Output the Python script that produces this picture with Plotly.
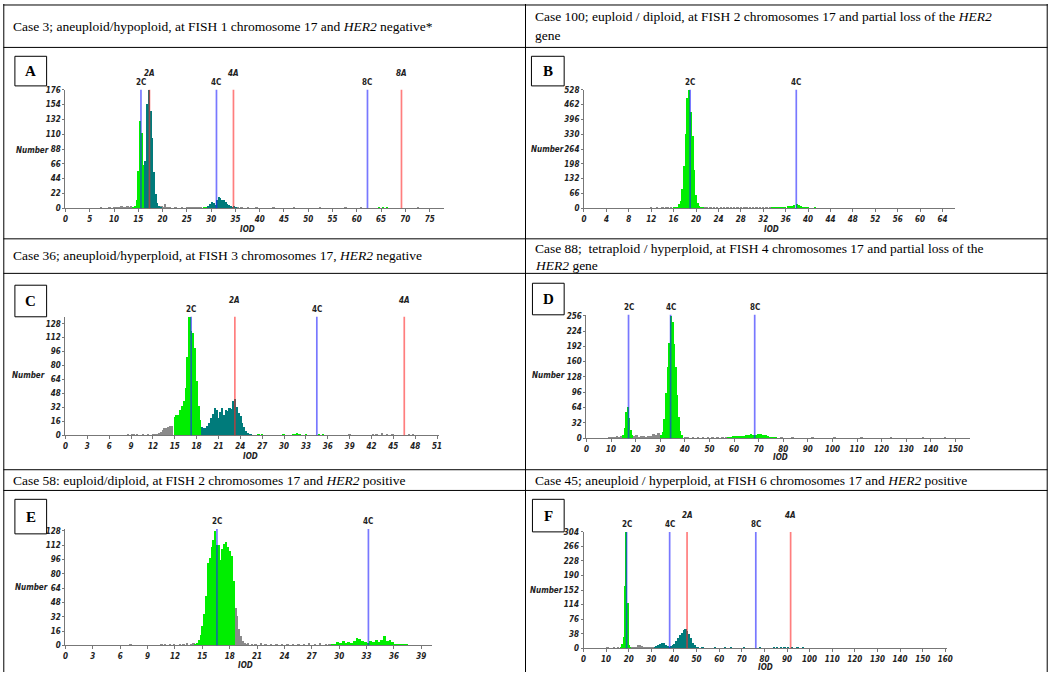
import plotly.graph_objects as go

W, H = 1054, 677

# ---------------- data (IOD bin centre, cell count) ----------------
# Panel A
A_green_x = [14.15, 14.5, 14.85, 15.2, 15.55, 15.9, 16.25, 28.6, 29.0, 64.8, 65.6, 66.4]
A_green_y = [2, 4, 12, 56, 130, 112, 64, 2, 1, 1, 1, 1]
A_teal_x = [16.6, 16.95, 17.3, 17.65, 18.0, 18.35, 18.7, 19.05, 19.4, 19.75,
            29.6, 29.95, 30.3, 30.65, 31.0, 31.35, 31.7, 32.05, 32.4, 32.75, 33.1, 33.45, 33.8, 34.15, 34.5, 34.85, 35.2]
A_teal_y = [70, 155, 176, 145, 105, 54, 22, 8, 4, 2,
            3, 7, 10, 8, 5, 13, 17, 15, 12, 13, 9, 7, 5, 3, 2, 4, 1]
A_gray_x = [7.4, 9.2, 10.1, 10.5, 10.9, 11.3, 11.7, 12.1, 12.5, 12.9, 13.3, 13.65,
            19.9, 20.3, 20.7, 21.1, 21.6, 22.8, 24.2, 25.3, 25.7, 26.1, 26.5, 26.9, 27.3, 27.7, 28.1,
            35.6, 36.4, 37.8, 39.5, 43.0, 47.2, 52.5, 57.8, 61.0, 72.8]
A_gray_y = [1, 1, 1, 2, 1, 2, 3, 2, 2, 3, 2, 3,
            3, 2, 6, 2, 1, 1, 1, 2, 1, 2, 1, 2, 1, 2, 1,
            2, 1, 1, 1, 1, 1, 1, 1, 1, 1]

# Panel B
B_green_x = [16.1, 16.4, 16.7, 17.0, 17.3, 17.6, 17.9, 18.2, 18.5, 18.8, 19.1, 19.4, 19.7, 20.0, 20.3, 20.6, 20.9, 21.2,
             33.6, 34.0, 34.4, 34.8, 35.2, 35.6, 36.0, 36.4, 36.8, 37.2, 37.6, 38.0, 38.4, 38.8, 39.2, 39.6, 40.0, 40.4, 41.3]
B_green_y = [2, 4, 8, 18, 35, 85, 190, 330, 494, 528, 430, 324, 171, 60, 25, 12, 6, 3,
             3, 4, 5, 7, 6, 8, 7, 9, 10, 11, 15, 18, 14, 10, 6, 4, 2, 1, 2]
B_gray_x = [11.6, 12.0, 12.4, 13.0, 13.5, 14.0, 14.6, 15.0, 15.5,
            21.5, 22.0, 22.6, 23.2, 23.8, 24.4, 25.0, 25.6, 26.2, 26.8, 27.4, 28.0, 28.6, 29.0, 29.6, 30.2, 30.8,
            31.4, 32.0, 32.6, 33.2, 42.0]
B_gray_y = [1, 2, 1, 2, 1, 3, 2, 3, 2,
            4, 3, 2, 3, 2, 3, 2, 3, 2, 3, 4, 3, 6, 4, 3, 4, 3,
            2, 3, 2, 2, 1]

# Panel C
C_green_x = [15.1, 15.35, 15.6, 15.85, 16.1, 16.35, 16.6, 16.85, 17.1, 17.35, 17.6, 17.85, 18.1, 18.35, 18.6,
             26.6, 27.1, 30.0, 31.3, 31.6, 31.9, 32.2, 33.1, 34.9, 35.4]
C_green_y = [21, 23, 24, 29, 34, 40, 54, 90, 136, 120, 118, 100, 62, 34, 18,
             1, 1, 1, 2, 2, 3, 2, 1, 2, 1]
C_teal_x = [18.85, 19.1, 19.35, 19.6, 19.85, 20.1, 20.35, 20.6, 20.85, 21.1, 21.35, 21.6, 21.85, 22.1,
            22.35, 22.6, 22.85, 23.1, 23.35, 23.6, 23.85, 24.1, 24.35, 24.6, 24.85, 25.1, 25.35, 25.6]
C_teal_y = [10, 9, 9, 11, 14, 20, 25, 31, 29, 20, 27, 31, 24, 29,
            28, 31, 30, 40, 42, 33, 26, 22, 14, 10, 5, 3, 2, 1]
C_gray_x = [8.7, 9.2, 9.5, 9.9, 10.7, 11.4, 12.2, 12.45, 12.7, 12.95, 13.2, 13.45, 13.7, 13.95, 14.2, 14.45, 14.7,
            39.1, 42.3, 42.8, 43.5, 44.2, 45.0, 47.2, 47.8]
C_gray_y = [1, 2, 1, 2, 1, 1, 1, 2, 1, 3, 4, 6, 8, 9, 10, 11, 11,
            1, 2, 1, 3, 2, 1, 1, 1]

# Panel D
D_green_x = [15.2, 15.8, 16.4, 17.0, 17.6, 18.2, 18.8,
             30.7, 31.35, 32.0, 32.65, 33.3, 33.95, 34.6, 35.25, 35.9, 36.55, 37.2, 37.85, 38.5, 39.15]
D_green_y = [8, 22, 55, 66, 42, 18, 6,
             8, 14, 40, 95, 150, 200, 256, 243, 198, 150, 90, 45, 15, 6]
D_tail_x = [58, 59, 60, 61, 62, 63, 64, 65, 66, 67, 68, 69, 70, 71, 72, 73, 74, 75, 76, 77]
D_tail_y = [2, 3, 5, 5, 4, 4, 5, 6, 8, 10, 6, 7, 9, 10, 8, 6, 4, 3, 2, 1]
D_gray_x = [9.5, 10.5, 11.5, 12.5, 13.5, 14.5,
            19.5, 20.5, 21.5, 22.5, 23.5, 24.5, 25.5, 26.5, 27.5, 28.5, 29.5,
            40.5, 41.5, 43.5, 45.5, 47.5, 49.5, 51.5, 53.5, 55.5, 57.0,
            79.5, 84.0, 92.0, 101.0, 112.0, 124.0, 137.0, 146.0]
D_gray_y = [1, 3, 2, 4, 3, 5,
            4, 6, 3, 5, 4, 2, 5, 4, 9, 7, 12,
            3, 2, 3, 2, 3, 2, 2, 3, 2, 3,
            1, 1, 1, 1, 1, 1, 1, 1]

# Panel E
E_green_x = [14.3, 14.5, 14.7, 14.9, 15.1, 15.3, 15.5, 15.7, 15.9, 16.1, 16.3, 16.5, 16.7, 16.9, 17.1,
             17.3, 17.5, 17.7, 17.9, 18.1, 18.3, 18.5]
E_green_y = [2, 3, 6, 12, 22, 35, 55, 92, 98, 110, 118, 128, 112, 112, 95,
             108, 113, 116, 110, 105, 100, 72]
E_tail_x = [29.3, 29.6, 29.9, 30.2, 30.5, 30.8, 31.1, 31.4, 31.7, 32.0, 32.3, 32.6, 32.9, 33.2,
            33.5, 33.8, 34.1, 34.4, 34.7, 35.0, 35.3, 35.6, 35.9, 36.2, 36.5, 36.8, 37.1, 37.4]
E_tail_y = [1, 2, 4, 3, 5, 3, 4, 3, 5, 8, 7, 5, 4, 3,
            5, 4, 6, 4, 6, 11, 5, 6, 4, 2, 1, 2, 1, 1]
E_gray_x = [7.2, 10.6, 11.0, 11.5, 12.0, 12.6, 13.0, 13.4, 13.8, 14.1,
            18.7, 18.9, 19.1, 19.3, 19.5, 19.7, 19.9, 20.1,
            20.5, 20.9, 21.5, 22.0, 22.6, 23.2, 23.8, 24.4, 25.0, 25.6, 26.2, 26.8, 27.4, 28.0, 28.6, 29.0]
E_gray_y = [1, 1, 2, 1, 2, 1, 2, 3, 2, 3,
            42, 33, 18, 10, 5, 3, 2, 3,
            2, 2, 3, 2, 2, 1, 2, 1, 2, 1, 2, 3, 2, 3, 2, 1]

# Panel F
F_green_x = [16.4, 17.0, 17.6, 18.2, 18.8, 19.4, 20.0, 20.6]
F_green_y = [3, 12, 30, 162, 304, 118, 8, 3]
F_gray_x = [5.5, 8.0, 10.5, 12.0, 13.5, 15.0, 21.0, 21.8, 22.6, 23.4, 24.2, 25.0, 25.8, 26.6, 27.4, 28.2, 29.0, 29.8, 30.6]
F_gray_y = [1, 1, 2, 1, 2, 3, 3, 4, 3, 5, 9, 10, 7, 5, 4, 3, 4, 3, 2]
F_teal_x = [31.4, 32.2, 33.0, 33.8, 34.6, 35.4, 36.2, 37.0, 37.8, 38.6, 39.4, 40.2, 41.0, 41.8, 42.6, 43.4,
            44.2, 45.0, 45.8, 46.6, 47.4, 48.2, 49.0, 49.8, 50.6]
F_teal_y = [3, 6, 9, 12, 15, 13, 10, 6, 5, 6, 8, 12, 20, 28, 35, 41,
            47, 50, 46, 38, 27, 15, 8, 4, 2]
F_sparse_x = [52.5, 55.0, 58.0, 61.0, 62.5, 65.0, 68.0, 71.0, 74.0, 78.0, 81.0, 84.0, 85.6, 87.2, 88.8,
              90.4, 92.0, 94.5, 97.0, 100.0, 104.0, 108.0, 115.0]
F_sparse_y = [2, 1, 2, 1, 3, 2, 1, 2, 1, 2, 1, 2, 3, 4, 3,
              4, 3, 2, 2, 1, 1, 1, 1]

# DNA index reference lines (C = control, A = aneuploid stemline)
A_lines = [("2C", 15.55, "b"), ("4C", 31.1, "b"), ("8C", 62.2, "b"),
           ("2A", 17.3, "r"), ("4A", 34.6, "r"), ("8A", 69.2, "r")]
B_lines = [("2C", 18.95, "b"), ("4C", 37.9, "b")]
C_lines = [("2C", 17.25, "b"), ("4C", 34.5, "b"), ("2A", 23.25, "r"), ("4A", 46.5, "r")]
D_lines = [("2C", 17.1, "b"), ("4C", 34.2, "b"), ("8C", 68.4, "b")]
E_lines = [("2C", 16.6, "b"), ("4C", 33.2, "b")]
F_lines = [("2C", 19.05, "b"), ("4C", 38.1, "b"), ("8C", 76.2, "b"), ("2A", 45.8, "r"), ("4A", 91.6, "r")]

headers = [
    (9, [(23, "Case 3; aneuploid/hypoploid, at FISH 1 chromosome 17 and <i>HER2</i> negative*")]),
    (536, [(13, "Case 100; euploid / diploid, at FISH 2 chromosomes 17 and partial loss of the <i>HER2</i>"),
           (32, "gene")]),
    (9, [(255, "Case 36; aneuploid/hyperploid, at FISH 3 chromosomes 17, <i>HER2</i> negative")]),
    (536, [(248, "Case 88;&nbsp; tetraploid / hyperploid, at FISH 4 chromosomes 17 and partial loss of the"),
           (265, "<i>HER2</i> gene")]),
    (9, [(483, "Case 58: euploid/diploid, at FISH 2 chromosomes 17 and <i>HER2</i> positive")]),
    (536, [(483, "Case 45; aneuploid / hyperploid, at FISH 6 chromosomes 17 and <i>HER2</i> positive")]),
]

GREEN = "#00ee00"
TEAL = "#007b7b"
GRAY = "#8a8a8a"
BLUE = "rgba(30,30,255,0.6)"
RED = "rgba(255,40,40,0.6)"

# panel geometry in pixels
panels = [
    dict(letter="A", box=(12, 53, 44, 83), px=(63, 445), py=(87, 207), xmax=78, ymax=176, dx=5, dy=22,
         series=[(A_gray_x, A_gray_y, GRAY, 0.38), (A_green_x, A_green_y, GREEN, 0.35), (A_teal_x, A_teal_y, TEAL, 0.35)],
         lines=A_lines, num=(47, 148), iod=(247, 229)),
    dict(letter="B", box=(533, 53, 566, 83), px=(586, 960), py=(87, 207), xmax=66.2, ymax=528, dx=4, dy=66,
         series=[(B_gray_x, B_gray_y, GRAY, 0.4), (B_green_x, B_green_y, GREEN, 0.3)],
         lines=B_lines, num=(567, 147), iod=(775, 229)),
    dict(letter="C", box=(12, 285, 44, 317), px=(63, 440), py=(317, 437), xmax=51.3, ymax=136, dx=3, dy=16,
         series=[(C_gray_x, C_gray_y, GRAY, 0.25), (C_green_x, C_green_y, GREEN, 0.25), (C_teal_x, C_teal_y, TEAL, 0.25)],
         lines=C_lines, num=(43, 377), iod=(250, 459)),
    dict(letter="D", box=(534, 283, 566, 315), px=(588.5, 975), py=(315, 440), xmax=155.8, ymax=258, dx=10, dy=32,
         series=[(D_gray_x, D_gray_y, GRAY, 1.0), (D_green_x, D_green_y, GREEN, 0.65), (D_tail_x, D_tail_y, GREEN, 1.0)],
         lines=D_lines, num=(568, 377), iod=(784, 460)),
    dict(letter="E", box=(12, 502, 44, 537), px=(63, 433), py=(532, 650), xmax=40.2, ymax=130, dx=3, dy=16,
         series=[(E_gray_x, E_gray_y, GRAY, 0.2), (E_green_x, E_green_y, GREEN, 0.2), (E_tail_x, E_tail_y, GREEN, 0.3)],
         lines=E_lines, num=(46, 591), iod=(245, 670)),
    dict(letter="F", box=(534, 502, 566, 535), px=(585.5, 952), py=(535, 653), xmax=160.7, ymax=304, dx=10, dy=38,
         series=[(F_gray_x, F_gray_y, GRAY, 0.8), (F_green_x, F_green_y, GREEN, 0.6), (F_teal_x, F_teal_y, TEAL, 0.8),
                 (F_sparse_x, F_sparse_y, TEAL, 0.8)],
         lines=F_lines, num=(566, 594), iod=(769, 672)),
]

SANS = "Liberation Sans Narrow, DejaVu Sans Condensed, Liberation Sans, Arial"
TICKFONT = dict(family=SANS, size=8, color="#222", weight="bold", style="italic")
SERIF = "Liberation Serif, Times New Roman, serif"

fig = go.Figure()
layout = dict(width=W, height=H, margin=dict(l=0, r=0, t=0, b=0), autosize=False,
              paper_bgcolor="white", plot_bgcolor="rgba(0,0,0,0)", showlegend=False,
              barmode="overlay", bargap=0)
shapes, annotations = [], []


def px_x(p):
    return p / W


def px_y(p):
    return 1 - p / H


for i, pnl in enumerate(panels, start=1):
    sx = "" if i == 1 else str(i)
    xref, yref = "x" + sx, "y" + sx
    for xs, ys, col, wdt in pnl["series"]:
        fig.add_trace(go.Bar(x=xs, y=ys, width=wdt, marker=dict(color=col, line=dict(width=0)),
                             xaxis=xref, yaxis=yref, hoverinfo="skip"))
    layout["xaxis" + sx] = dict(domain=[px_x(pnl["px"][0]), px_x(pnl["px"][1])], anchor=yref,
                                range=[0, pnl["xmax"]], tick0=0, dtick=pnl["dx"], showgrid=False, zeroline=False,
                                showline=True, linecolor="#777", linewidth=1, ticks="outside", ticklen=3,
                                tickcolor="#777", tickfont=TICKFONT, fixedrange=True)
    layout["yaxis" + sx] = dict(domain=[px_y(pnl["py"][1]), px_y(pnl["py"][0])], anchor=xref,
                                range=[0, pnl["ymax"]], tick0=0, dtick=pnl["dy"], showgrid=False, zeroline=False,
                                showline=True, linecolor="#777", linewidth=1, ticks="outside", ticklen=2,
                                tickcolor="#777", tickfont=TICKFONT, fixedrange=True)
    # reference lines
    for lab, xv, c in pnl["lines"]:
        shapes.append(dict(type="line", xref=xref, yref=yref + " domain", x0=xv, x1=xv, y0=0, y1=1,
                           line=dict(color=BLUE if c == "b" else RED, width=1.7), layer="above"))
        if c == "b":
            annotations.append(dict(x=xv, y=1, xref=xref, yref=yref + " domain", text="<b>%s</b>" % lab,
                                    showarrow=False, yanchor="middle", yshift=7,
                                    font=dict(family=SANS, size=8, color="#222")))
        else:
            annotations.append(dict(x=xv, y=1, xref=xref, yref=yref + " domain", text="<b><i>%s</i></b>" % lab,
                                    showarrow=False, yanchor="middle", yshift=16,
                                    font=dict(family=SANS, size=8, color="#222")))
    # axis titles
    annotations.append(dict(x=px_x(pnl["num"][0]), y=px_y(pnl["num"][1]), xref="paper", yref="paper",
                            text="<b><i>Number</i></b>", showarrow=False, xanchor="right", yanchor="middle",
                            borderpad=0, font=dict(family=SANS, size=8, color="#222")))
    annotations.append(dict(x=px_x(pnl["iod"][0]), y=px_y(pnl["iod"][1]), xref="paper", yref="paper",
                            text="<b><i>IOD</i></b>", showarrow=False, xanchor="center", yanchor="middle",
                            borderpad=0, font=dict(family=SANS, size=8, color="#222")))
    # panel letter box
    x0, y0, x1, y1 = pnl["box"]
    shapes.append(dict(type="rect", xref="paper", yref="paper", x0=px_x(x0), x1=px_x(x1), y0=px_y(y1), y1=px_y(y0),
                       line=dict(color="black", width=1), fillcolor="white"))
    annotations.append(dict(x=px_x((x0 + x1) / 2), y=px_y((y0 + y1) / 2), xref="paper", yref="paper",
                            text="<b>%s</b>" % pnl["letter"], showarrow=False, xanchor="center", yanchor="middle",
                            font=dict(family=SERIF, size=15, color="black")))

# header texts
for xl, lines in headers:
    for yc, txt in lines:
        annotations.append(dict(x=px_x(xl), y=px_y(yc), xref="paper", yref="paper", text=txt, showarrow=False,
                                xanchor="left", yanchor="middle", borderpad=0,
                                font=dict(family=SERIF, size=13.5, color="black")))

# table rules
for yv in [1, 44, 238, 273, 472, 493]:
    shapes.append(dict(type="line", xref="paper", yref="paper", x0=px_x(0.5), x1=px_x(1053.5),
                       y0=px_y(yv), y1=px_y(yv), line=dict(color="black", width=1)))
for xv in [0.8, 527, 1053.2]:
    shapes.append(dict(type="line", xref="paper", yref="paper", x0=px_x(xv), x1=px_x(xv),
                       y0=px_y(0), y1=px_y(677), line=dict(color="black", width=1)))

layout["shapes"] = shapes
layout["annotations"] = annotations
fig.update_layout(**layout)

fig.write_html("out.html", config={"displayModeBar": False},
               post_script="document.body.style.margin='0';document.body.style.overflow='hidden';")
